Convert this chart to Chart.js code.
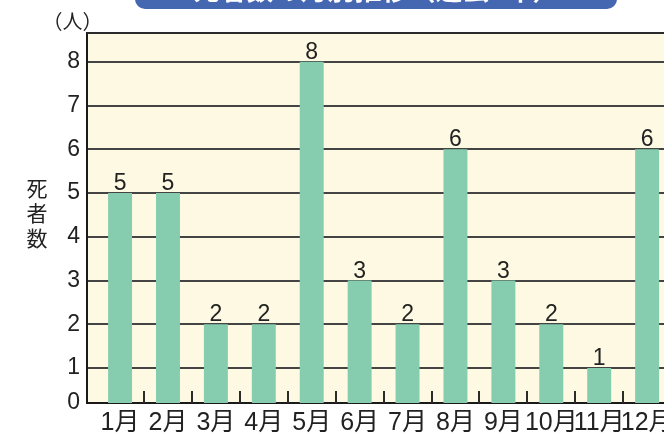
<!DOCTYPE html>
<html lang="ja">
<head>
<meta charset="utf-8">
<title>死者数の月別推移</title>
<script src="https://cdn.jsdelivr.net/npm/chart.js@4/dist/chart.umd.min.js"></script>
<style>
	html, body { margin: 0; padding: 0; background: #fff; overflow: hidden; width: 664px; height: 435px; }
	#wrap { position: relative; width: 664px; height: 435px; overflow: hidden; }
	#chart { position: absolute; left: 0; top: 0; }
	.title-box {
		position: absolute; left: 135px; top: -30px; width: 482px; height: 39px;
		background: #4566b0; border-radius: 10px;
	}
	.title-box span {
		position: absolute; left: 0; right: 0; bottom: 7px; text-align: center;
		color: #fff; font: bold 27px/1 'Noto Sans CJK JP', sans-serif;
	}
	.unit {
		position: absolute; left: 42px; top: 11px; width: 61px; text-align: center;
		font: 20px/20px 'Noto Sans CJK JP', sans-serif; color: #222;
	}
	.y-title {
		position: absolute; left: 26px; top: 175px; width: 22px; text-align: center;
		font: 21px/25px 'Noto Sans CJK JP', sans-serif; color: #222;
	}
</style>
</head>
<body>
<div id="wrap">
	<canvas id="chart" width="700" height="435"></canvas>
	<div class="title-box"><span>死者数の月別推移（過去5年）</span></div>
	<div class="unit">（人）</div>
	<div class="y-title">死<br>者<br>数</div>
</div>
<script>
	'use strict';

	// data
	var months = ['1月', '2月', '3月', '4月', '5月', '6月', '7月', '8月', '9月', '10月', '11月', '12月'];
	var deaths = [5, 5, 2, 2, 8, 3, 2, 6, 3, 2, 1, 6];
	var yTicks = [0, 1, 2, 3, 4, 5, 6, 7, 8];

	var numFont = "'Liberation Sans', 'Noto Sans CJK JP', sans-serif";
	var yBottom = 0.2; // the original squeezes the 0-1 band a little

	// plot background + frame + small separators on the x axis
	var framePlugin = {
		id: 'frame',
		beforeDraw: function(chart) {
			var a = chart.chartArea, ctx = chart.ctx;
			ctx.save();
			ctx.fillStyle = '#fef9e2';
			ctx.fillRect(a.left, a.top, a.right - a.left, a.bottom - a.top);
			ctx.restore();
		},
		afterDatasetsDraw: function(chart) {
			var a = chart.chartArea, ctx = chart.ctx, x = chart.scales.x;
			ctx.save();
			ctx.strokeStyle = '#2b2b2b';
			ctx.lineWidth = 2;
			for (var i = 0; i < months.length - 1; i++) {
				var px = Math.round(x.getPixelForValue(i + 0.5));
				ctx.beginPath();
				ctx.moveTo(px, a.bottom);
				ctx.lineTo(px, a.bottom - 12);
				ctx.stroke();
			}
			ctx.beginPath();
			ctx.moveTo(a.left, a.top);
			ctx.lineTo(a.right, a.top);
			ctx.stroke();

			// value labels above bars
			var meta = chart.getDatasetMeta(0);
			ctx.fillStyle = '#222';
			ctx.font = '23px ' + numFont;
			ctx.textAlign = 'center';
			ctx.textBaseline = 'alphabetic';
			meta.data.forEach(function(bar, i) {
				ctx.fillText(String(deaths[i]), bar.x, bar.y - 3);
			});
			ctx.restore();
		}
	};

	new Chart(document.getElementById('chart'), {
		type: 'bar',
		data: {
			datasets: [{
				data: deaths.map(function(v, i) { return { x: i, y: v }; }),
				backgroundColor: '#85cdae',
				borderWidth: 0,
				categoryPercentage: 1,
				barPercentage: 0.5,
				clip: 0
			}]
		},
		options: {
			responsive: false,
			animation: false,
			layout: { padding: { left: 0, right: 27, top: 33, bottom: 0 } },
			plugins: {
				legend: { display: false },
				tooltip: { enabled: false }
			},
			scales: {
				x: {
					type: 'linear',
					offset: false,
					min: -0.69,
					max: 11.54,
					afterBuildTicks: function(scale) {
						scale.ticks = months.map(function(m, i) { return { value: i }; });
					},
					afterFit: function(scale) {
						scale.height = 32;
					},
					ticks: {
						autoSkip: false,
						maxRotation: 0,
						minRotation: 0,
						padding: 5,
						color: '#222',
						font: { family: numFont, size: 25 },
						callback: function(value, index) {
							return months[index];
						}
					},
					grid: { display: false, drawTicks: false, offset: false },
					border: { color: '#1a1a1a', width: 2 }
				},
				y: {
					min: yBottom,
					max: 8.66,
					afterBuildTicks: function(scale) {
						scale.ticks = yTicks.map(function(v) { return { value: v === 0 ? yBottom : v }; });
					},
					afterFit: function(scale) {
						scale.width = 87;
					},
					ticks: {
						padding: 7,
						color: '#222',
						font: { family: numFont, size: 23 },
						callback: function(value, index) {
							return String(yTicks[index]);
						}
					},
					grid: { color: '#444', lineWidth: 2, drawTicks: false },
					border: { color: '#1a1a1a', width: 2 }
				}
			}
		},
		plugins: [framePlugin]
	});
</script>
</body>
</html>
